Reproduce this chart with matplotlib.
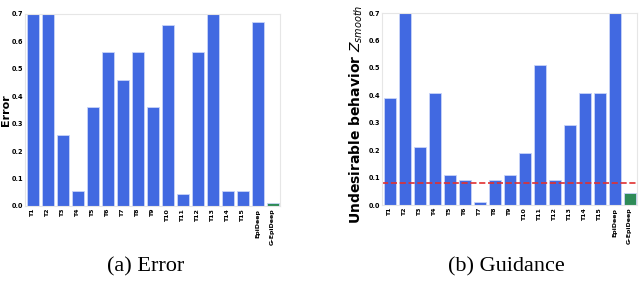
import numpy as np
import matplotlib.pyplot as plt

labels = ['T1', 'T2', 'T3', 'T4', 'T5', 'T6', 'T7', 'T8', 'T9', 'T10',
          'T11', 'T12', 'T13', 'T14', 'T15', 'EpiDeep', 'G-EpiDeep']

# values above 0.7 are cut off in the original
error = [0.80, 0.80, 0.26, 0.055, 0.36, 0.56, 0.46, 0.56, 0.36, 0.66,
         0.045, 0.56, 0.80, 0.055, 0.055, 0.67, 0.01]
guidance = [0.39, 0.80, 0.21, 0.41, 0.11, 0.09, 0.01, 0.09, 0.11, 0.19,
            0.51, 0.09, 0.29, 0.41, 0.41, 0.80, 0.045]
threshold = 0.08

colors = ['royalblue'] * 16 + ['seagreen']

fig = plt.figure(figsize=(6.4, 2.83), dpi=100)
ax1 = fig.add_axes([25 / 640, 1 - 206 / 283, 255 / 640, 192 / 283])
ax2 = fig.add_axes([382 / 640, 1 - 205 / 283, 255 / 640, 192 / 283])

def draw(ax, vals, ylabel, ysize):
    x = np.arange(len(vals))
    ax.bar(x, vals, width=0.8, color=colors, edgecolor='#c8d4f8', linewidth=0.6)
    ax.set_xlim(-0.5, len(vals) - 0.5)
    ax.set_ylim(0, 0.7)
    ax.set_xticks(x)
    ax.set_xticklabels(labels, rotation=90, fontsize=4.5, fontweight='bold')
    ax.set_yticks(np.arange(0, 0.71, 0.1))
    ax.set_yticklabels(['%.1f' % v for v in np.arange(0, 0.71, 0.1)],
                       fontsize=4.7, fontweight='bold')
    ax.tick_params(axis='y', length=0, pad=1)
    ax.tick_params(axis='x', length=0, pad=2)
    for s in ax.spines.values():
        s.set_color('#e6e6e6')
        s.set_linewidth(0.8)
    ax.set_ylabel(ylabel, fontsize=ysize, fontweight='bold')

draw(ax1, error, 'Error', 8)
ax1.yaxis.set_label_coords(-0.055, 0.5)
draw(ax2, guidance, r'Undesirable behavior $Z_{smooth}$', 10)
ax2.yaxis.set_label_coords(-0.068, 0.47)
ax2.axhline(threshold, color='#e03030', linestyle='--', linewidth=1.2)

fig.text(146 / 640, 1 - 267 / 283, '(a) Error', ha='center', va='center',
         fontsize=16, family='Liberation Serif')
fig.text(506 / 640, 1 - 267 / 283, '(b) Guidance', ha='center', va='center',
         fontsize=16, family='Liberation Serif')

fig.savefig('out.png', dpi=100)
